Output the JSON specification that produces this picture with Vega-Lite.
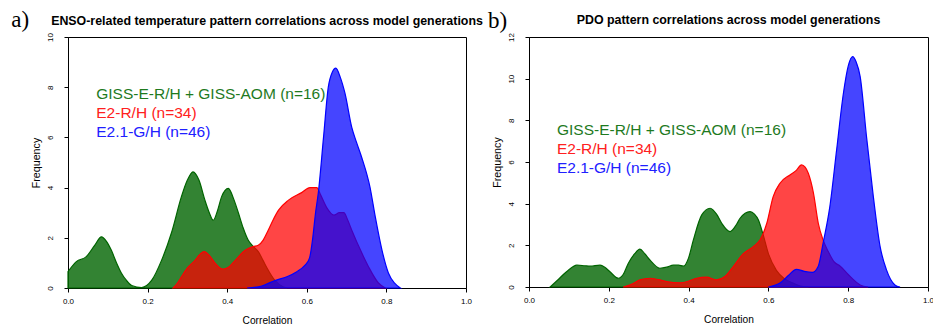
{
  "$schema": "https://vega.github.io/schema/vega-lite/v6.json",
  "background": "white",
  "padding": {"left": 10, "top": 8, "right": 2, "bottom": 2},
  "spacing": 3,
  "config": {
    "font": "Liberation Sans",
    "view": {"stroke": "black", "strokeWidth": 1},
    "axis": {
      "grid": false,
      "domainColor": "black",
      "tickColor": "black",
      "labelColor": "black",
      "titleColor": "black",
      "labelFont": "Liberation Sans",
      "titleFont": "Liberation Sans",
      "labelFontSize": 8,
      "titleFontWeight": "normal",
      "tickSize": 4,
      "labelFlush": false,
      "labelOverlap": false
    },
    "axisX": {"labelPadding": 5, "titleFontSize": 10.2, "titlePadding": 10},
    "axisY": {"labelAngle": -90, "labelAlign": "center", "labelBaseline": "bottom", "labelPadding": 9.5, "titleFontSize": 10.7, "titlePadding": 5}
  },
  "datasets": {
    "enso": [
      {"g": "G", "x": 0.000, "y": 0.65}, {"g": "G", "x": 0.021, "y": 1.05}, {"g": "G", "x": 0.046, "y": 1.25}, {"g": "G", "x": 0.067, "y": 1.7}, {"g": "G", "x": 0.084, "y": 2.04}, {"g": "G", "x": 0.097, "y": 1.85}, {"g": "G", "x": 0.109, "y": 1.5}, {"g": "G", "x": 0.122, "y": 1.0}, {"g": "G", "x": 0.134, "y": 0.6}, {"g": "G", "x": 0.147, "y": 0.3}, {"g": "G", "x": 0.16, "y": 0.1}, {"g": "G", "x": 0.185, "y": 0.02}, {"g": "G", "x": 0.21, "y": 0.3}, {"g": "G", "x": 0.235, "y": 1.1}, {"g": "G", "x": 0.26, "y": 2.2}, {"g": "G", "x": 0.285, "y": 3.64}, {"g": "G", "x": 0.30, "y": 4.3}, {"g": "G", "x": 0.314, "y": 4.63}, {"g": "G", "x": 0.329, "y": 4.3}, {"g": "G", "x": 0.344, "y": 3.5}, {"g": "G", "x": 0.355, "y": 3.0}, {"g": "G", "x": 0.365, "y": 2.7}, {"g": "G", "x": 0.376, "y": 3.1}, {"g": "G", "x": 0.386, "y": 3.64}, {"g": "G", "x": 0.403, "y": 3.97}, {"g": "G", "x": 0.415, "y": 3.6}, {"g": "G", "x": 0.428, "y": 3.0}, {"g": "G", "x": 0.44, "y": 2.4}, {"g": "G", "x": 0.453, "y": 1.9}, {"g": "G", "x": 0.466, "y": 1.65}, {"g": "G", "x": 0.478, "y": 1.45}, {"g": "G", "x": 0.49, "y": 1.1}, {"g": "G", "x": 0.50, "y": 0.8}, {"g": "G", "x": 0.52, "y": 0.3}, {"g": "G", "x": 0.54, "y": 0.05}, {"g": "G", "x": 0.55, "y": 0},
      {"g": "R", "x": 0.264, "y": 0}, {"g": "R", "x": 0.275, "y": 0.2}, {"g": "R", "x": 0.285, "y": 0.45}, {"g": "R", "x": 0.30, "y": 0.8}, {"g": "R", "x": 0.319, "y": 1.1}, {"g": "R", "x": 0.332, "y": 1.35}, {"g": "R", "x": 0.342, "y": 1.45}, {"g": "R", "x": 0.355, "y": 1.3}, {"g": "R", "x": 0.369, "y": 1.0}, {"g": "R", "x": 0.38, "y": 0.82}, {"g": "R", "x": 0.39, "y": 0.75}, {"g": "R", "x": 0.405, "y": 0.85}, {"g": "R", "x": 0.42, "y": 1.1}, {"g": "R", "x": 0.445, "y": 1.5}, {"g": "R", "x": 0.465, "y": 1.65}, {"g": "R", "x": 0.478, "y": 1.7}, {"g": "R", "x": 0.49, "y": 1.9}, {"g": "R", "x": 0.503, "y": 2.3}, {"g": "R", "x": 0.515, "y": 2.7}, {"g": "R", "x": 0.529, "y": 3.1}, {"g": "R", "x": 0.554, "y": 3.5}, {"g": "R", "x": 0.587, "y": 3.8}, {"g": "R", "x": 0.608, "y": 4.0}, {"g": "R", "x": 0.625, "y": 4.0}, {"g": "R", "x": 0.635, "y": 3.7}, {"g": "R", "x": 0.65, "y": 3.2}, {"g": "R", "x": 0.668, "y": 2.9}, {"g": "R", "x": 0.682, "y": 3.0}, {"g": "R", "x": 0.693, "y": 3.0}, {"g": "R", "x": 0.703, "y": 2.7}, {"g": "R", "x": 0.713, "y": 2.3}, {"g": "R", "x": 0.738, "y": 1.4}, {"g": "R", "x": 0.755, "y": 0.85}, {"g": "R", "x": 0.78, "y": 0.2}, {"g": "R", "x": 0.797, "y": 0},
      {"g": "B", "x": 0.45, "y": 0}, {"g": "B", "x": 0.487, "y": 0.08}, {"g": "B", "x": 0.52, "y": 0.3}, {"g": "B", "x": 0.55, "y": 0.45}, {"g": "B", "x": 0.575, "y": 0.65}, {"g": "B", "x": 0.595, "y": 0.9}, {"g": "B", "x": 0.607, "y": 1.2}, {"g": "B", "x": 0.615, "y": 2.0}, {"g": "B", "x": 0.622, "y": 3.0}, {"g": "B", "x": 0.629, "y": 3.8}, {"g": "B", "x": 0.642, "y": 6.0}, {"g": "B", "x": 0.654, "y": 8.0}, {"g": "B", "x": 0.664, "y": 8.6}, {"g": "B", "x": 0.673, "y": 8.76}, {"g": "B", "x": 0.684, "y": 8.4}, {"g": "B", "x": 0.696, "y": 7.75}, {"g": "B", "x": 0.713, "y": 6.4}, {"g": "B", "x": 0.725, "y": 5.8}, {"g": "B", "x": 0.738, "y": 5.2}, {"g": "B", "x": 0.759, "y": 4.0}, {"g": "B", "x": 0.772, "y": 2.84}, {"g": "B", "x": 0.789, "y": 1.5}, {"g": "B", "x": 0.805, "y": 0.6}, {"g": "B", "x": 0.82, "y": 0.2}, {"g": "B", "x": 0.835, "y": 0}
    ],
    "pdo": [
      {"g": "G", "x": 0.053, "y": 0}, {"g": "G", "x": 0.07, "y": 0.3}, {"g": "G", "x": 0.094, "y": 0.73}, {"g": "G", "x": 0.12, "y": 1.05}, {"g": "G", "x": 0.14, "y": 1.02}, {"g": "G", "x": 0.153, "y": 1.0}, {"g": "G", "x": 0.178, "y": 1.05}, {"g": "G", "x": 0.19, "y": 0.95}, {"g": "G", "x": 0.203, "y": 0.73}, {"g": "G", "x": 0.224, "y": 0.42}, {"g": "G", "x": 0.236, "y": 0.6}, {"g": "G", "x": 0.249, "y": 1.14}, {"g": "G", "x": 0.265, "y": 1.6}, {"g": "G", "x": 0.278, "y": 1.82}, {"g": "G", "x": 0.29, "y": 1.6}, {"g": "G", "x": 0.303, "y": 1.3}, {"g": "G", "x": 0.328, "y": 0.9}, {"g": "G", "x": 0.345, "y": 0.95}, {"g": "G", "x": 0.362, "y": 1.05}, {"g": "G", "x": 0.375, "y": 1.05}, {"g": "G", "x": 0.387, "y": 1.0}, {"g": "G", "x": 0.40, "y": 1.4}, {"g": "G", "x": 0.412, "y": 2.26}, {"g": "G", "x": 0.433, "y": 3.46}, {"g": "G", "x": 0.454, "y": 3.78}, {"g": "G", "x": 0.47, "y": 3.5}, {"g": "G", "x": 0.483, "y": 3.06}, {"g": "G", "x": 0.504, "y": 2.66}, {"g": "G", "x": 0.52, "y": 3.0}, {"g": "G", "x": 0.529, "y": 3.3}, {"g": "G", "x": 0.554, "y": 3.62}, {"g": "G", "x": 0.565, "y": 3.5}, {"g": "G", "x": 0.575, "y": 3.22}, {"g": "G", "x": 0.587, "y": 2.5}, {"g": "G", "x": 0.60, "y": 1.6}, {"g": "G", "x": 0.62, "y": 0.8}, {"g": "G", "x": 0.64, "y": 0.4}, {"g": "G", "x": 0.66, "y": 0.2}, {"g": "G", "x": 0.68, "y": 0.05}, {"g": "G", "x": 0.70, "y": 0},
      {"g": "R", "x": 0.236, "y": 0}, {"g": "R", "x": 0.26, "y": 0.15}, {"g": "R", "x": 0.278, "y": 0.34}, {"g": "R", "x": 0.303, "y": 0.42}, {"g": "R", "x": 0.325, "y": 0.35}, {"g": "R", "x": 0.345, "y": 0.26}, {"g": "R", "x": 0.378, "y": 0.2}, {"g": "R", "x": 0.40, "y": 0.28}, {"g": "R", "x": 0.42, "y": 0.42}, {"g": "R", "x": 0.445, "y": 0.47}, {"g": "R", "x": 0.47, "y": 0.34}, {"g": "R", "x": 0.491, "y": 0.5}, {"g": "R", "x": 0.512, "y": 0.98}, {"g": "R", "x": 0.537, "y": 1.6}, {"g": "R", "x": 0.562, "y": 1.94}, {"g": "R", "x": 0.579, "y": 2.26}, {"g": "R", "x": 0.596, "y": 3.06}, {"g": "R", "x": 0.612, "y": 4.34}, {"g": "R", "x": 0.629, "y": 4.98}, {"g": "R", "x": 0.654, "y": 5.38}, {"g": "R", "x": 0.67, "y": 5.6}, {"g": "R", "x": 0.683, "y": 5.86}, {"g": "R", "x": 0.692, "y": 5.75}, {"g": "R", "x": 0.70, "y": 5.46}, {"g": "R", "x": 0.713, "y": 4.5}, {"g": "R", "x": 0.725, "y": 3.06}, {"g": "R", "x": 0.737, "y": 2.26}, {"g": "R", "x": 0.75, "y": 1.7}, {"g": "R", "x": 0.765, "y": 1.2}, {"g": "R", "x": 0.78, "y": 1.0}, {"g": "R", "x": 0.80, "y": 0.6}, {"g": "R", "x": 0.83, "y": 0.1}, {"g": "R", "x": 0.85, "y": 0},
      {"g": "B", "x": 0.60, "y": 0}, {"g": "B", "x": 0.63, "y": 0.2}, {"g": "B", "x": 0.65, "y": 0.55}, {"g": "B", "x": 0.67, "y": 0.85}, {"g": "B", "x": 0.69, "y": 0.75}, {"g": "B", "x": 0.71, "y": 0.7}, {"g": "B", "x": 0.725, "y": 1.0}, {"g": "B", "x": 0.737, "y": 2.1}, {"g": "B", "x": 0.754, "y": 3.86}, {"g": "B", "x": 0.771, "y": 6.58}, {"g": "B", "x": 0.788, "y": 9.3}, {"g": "B", "x": 0.80, "y": 10.6}, {"g": "B", "x": 0.811, "y": 11.06}, {"g": "B", "x": 0.82, "y": 10.8}, {"g": "B", "x": 0.83, "y": 10.1}, {"g": "B", "x": 0.846, "y": 7.2}, {"g": "B", "x": 0.863, "y": 4.34}, {"g": "B", "x": 0.88, "y": 1.94}, {"g": "B", "x": 0.896, "y": 0.82}, {"g": "B", "x": 0.917, "y": 0.1}, {"g": "B", "x": 0.93, "y": 0}
    ]
  },
  "hconcat": [
    {
      "width": 398,
      "height": 251,
      "layer": [
        {"data": {"name": "enso"}, "transform": [{"filter": "datum.g == 'G'"}], "mark": {"type": "area", "interpolate": "monotone", "fill": "#006400", "fillOpacity": 0.8, "stroke": "#006400", "strokeWidth": 1.2},
         "encoding": {
          "x": {"field": "x", "type": "quantitative", "scale": {"domain": [0, 1], "nice": false}, "axis": {"title": "Correlation", "values": [0, 0.2, 0.4, 0.6, 0.8, 1], "format": ".1f"}},
          "y": {"field": "y", "type": "quantitative", "scale": {"domain": [0, 10], "nice": false}, "axis": {"title": "Frequency", "values": [0, 2, 4, 6, 8, 10]}}}},
        {"data": {"name": "enso"}, "transform": [{"filter": "datum.g == 'R'"}], "mark": {"type": "area", "interpolate": "monotone", "fill": "#ff0000", "fillOpacity": 0.73, "stroke": "#ff0000", "strokeWidth": 1.2},
         "encoding": {"x": {"field": "x", "type": "quantitative"}, "y": {"field": "y", "type": "quantitative"}}},
        {"data": {"name": "enso"}, "transform": [{"filter": "datum.g == 'B'"}], "mark": {"type": "area", "interpolate": "monotone", "fill": "#0000ff", "fillOpacity": 0.73, "stroke": "#0000ff", "strokeWidth": 1.2},
         "encoding": {"x": {"field": "x", "type": "quantitative"}, "y": {"field": "y", "type": "quantitative"}}},
        {"data": {"values": [{"t": "GISS-E-R/H + GISS-AOM (n=16)"}]}, "mark": {"type": "text", "align": "left", "baseline": "middle", "fontSize": 15.5, "color": "#1e7a1e", "font": "Liberation Sans"},
         "encoding": {"text": {"field": "t", "type": "nominal"}, "x": {"datum": 0.071, "type": "quantitative"}, "y": {"datum": 7.73, "type": "quantitative"}}},
        {"data": {"values": [{"t": "E2-R/H (n=34)"}]}, "mark": {"type": "text", "align": "left", "baseline": "middle", "fontSize": 15.5, "color": "#ff2020", "font": "Liberation Sans"},
         "encoding": {"text": {"field": "t", "type": "nominal"}, "x": {"datum": 0.071, "type": "quantitative"}, "y": {"datum": 6.97, "type": "quantitative"}}},
        {"data": {"values": [{"t": "E2.1-G/H (n=46)"}]}, "mark": {"type": "text", "align": "left", "baseline": "middle", "fontSize": 15.5, "color": "#2020ff", "font": "Liberation Sans"},
         "encoding": {"text": {"field": "t", "type": "nominal"}, "x": {"datum": 0.071, "type": "quantitative"}, "y": {"datum": 6.22, "type": "quantitative"}}},
        {"data": {"values": [{"t": "ENSO-related temperature pattern correlations across model generations"}]}, "mark": {"type": "text", "align": "center", "baseline": "alphabetic", "fontSize": 12.4, "fontWeight": "bold", "color": "black", "font": "Liberation Sans"},
         "encoding": {"text": {"field": "t", "type": "nominal"}, "x": {"datum": 0.5, "type": "quantitative"}, "y": {"datum": 10.46, "type": "quantitative"}}},
        {"data": {"values": [{"t": "a)"}]}, "mark": {"type": "text", "align": "left", "baseline": "alphabetic", "fontSize": 23, "color": "black", "font": "Liberation Serif"},
         "encoding": {"text": {"field": "t", "type": "nominal"}, "x": {"datum": -0.1427, "type": "quantitative"}, "y": {"datum": 10.4, "type": "quantitative"}}}
      ]
    },
    {
      "width": 399,
      "height": 250,
      "layer": [
        {"data": {"name": "pdo"}, "transform": [{"filter": "datum.g == 'G'"}], "mark": {"type": "area", "interpolate": "monotone", "fill": "#006400", "fillOpacity": 0.8, "stroke": "#006400", "strokeWidth": 1.2},
         "encoding": {
          "x": {"field": "x", "type": "quantitative", "scale": {"domain": [0, 1], "nice": false}, "axis": {"title": "Correlation", "values": [0, 0.2, 0.4, 0.6, 0.8, 1], "format": ".1f"}},
          "y": {"field": "y", "type": "quantitative", "scale": {"domain": [0, 12], "nice": false}, "axis": {"title": "Frequency", "values": [0, 2, 4, 6, 8, 10, 12]}}}},
        {"data": {"name": "pdo"}, "transform": [{"filter": "datum.g == 'R'"}], "mark": {"type": "area", "interpolate": "monotone", "fill": "#ff0000", "fillOpacity": 0.73, "stroke": "#ff0000", "strokeWidth": 1.2},
         "encoding": {"x": {"field": "x", "type": "quantitative"}, "y": {"field": "y", "type": "quantitative"}}},
        {"data": {"name": "pdo"}, "transform": [{"filter": "datum.g == 'B'"}], "mark": {"type": "area", "interpolate": "monotone", "fill": "#0000ff", "fillOpacity": 0.73, "stroke": "#0000ff", "strokeWidth": 1.2},
         "encoding": {"x": {"field": "x", "type": "quantitative"}, "y": {"field": "y", "type": "quantitative"}}},
        {"data": {"values": [{"t": "GISS-E-R/H + GISS-AOM (n=16)"}]}, "mark": {"type": "text", "align": "left", "baseline": "middle", "fontSize": 15.5, "color": "#1e7a1e", "font": "Liberation Sans"},
         "encoding": {"text": {"field": "t", "type": "nominal"}, "x": {"datum": 0.07, "type": "quantitative"}, "y": {"datum": 7.54, "type": "quantitative"}}},
        {"data": {"values": [{"t": "E2-R/H (n=34)"}]}, "mark": {"type": "text", "align": "left", "baseline": "middle", "fontSize": 15.5, "color": "#ff2020", "font": "Liberation Sans"},
         "encoding": {"text": {"field": "t", "type": "nominal"}, "x": {"datum": 0.07, "type": "quantitative"}, "y": {"datum": 6.62, "type": "quantitative"}}},
        {"data": {"values": [{"t": "E2.1-G/H (n=46)"}]}, "mark": {"type": "text", "align": "left", "baseline": "middle", "fontSize": 15.5, "color": "#2020ff", "font": "Liberation Sans"},
         "encoding": {"text": {"field": "t", "type": "nominal"}, "x": {"datum": 0.07, "type": "quantitative"}, "y": {"datum": 5.71, "type": "quantitative"}}},
        {"data": {"values": [{"t": "PDO pattern correlations across model generations"}]}, "mark": {"type": "text", "align": "center", "baseline": "alphabetic", "fontSize": 12.4, "fontWeight": "bold", "color": "black", "font": "Liberation Sans"},
         "encoding": {"text": {"field": "t", "type": "nominal"}, "x": {"datum": 0.5, "type": "quantitative"}, "y": {"datum": 12.64, "type": "quantitative"}}},
        {"data": {"values": [{"t": "b)"}]}, "mark": {"type": "text", "align": "left", "baseline": "alphabetic", "fontSize": 23, "color": "black", "font": "Liberation Serif"},
         "encoding": {"text": {"field": "t", "type": "nominal"}, "x": {"datum": -0.1028, "type": "quantitative"}, "y": {"datum": 12.43, "type": "quantitative"}}}
      ]
    }
  ]
}
